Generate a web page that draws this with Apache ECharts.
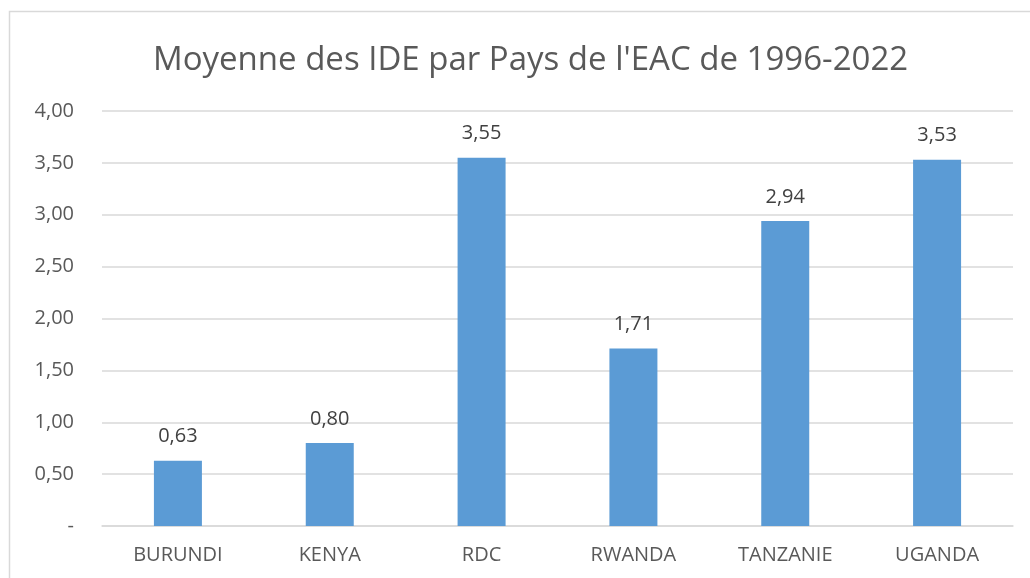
<!DOCTYPE html>
<html>
<head>
<meta charset="utf-8">
<script src="https://cdn.jsdelivr.net/npm/echarts@6/dist/echarts.min.js"></script>
<style>
html, body { margin: 0; padding: 0; background: #fff; }
#chart { width: 1030px; height: 578px; }
</style>
</head>
<body>
<div id="chart"></div>
<script>
var pays = ["BURUNDI", "KENYA", "RDC", "RWANDA", "TANZANIE", "UGANDA"]
var moyenneIde = [0.63, 0.80, 3.55, 1.71, 2.94, 3.53]

// format a la francaise : virgule, zero affiche en tiret
function fmt(v) {
	if (v === 0) return "-"
	return v.toFixed(2).replace(".", ",")
}

var myChart = echarts.init(document.getElementById("chart"))
myChart.setOption({
	animation: false,
	textStyle: { fontFamily: "Open Sans" },
	graphic: [
		{
			type: "rect",
			shape: { x: 9.5, y: 11.5, width: 1040, height: 600 },
			style: { fill: "none", stroke: "#d9d9d9", lineWidth: 1.5 },
			silent: true
		}
	],
	title: {
		text: "Moyenne des IDE par Pays de l'EAC de 1996-2022",
		left: 148,
		top: 39,
		textStyle: {
			fontFamily: "Open Sans",
			fontSize: 33,
			fontWeight: "normal",
			color: "#595959"
		}
	},
	grid: { left: 102, right: 17, top: 111, bottom: 52 },
	xAxis: {
		type: "category",
		data: pays,
		axisLine: { lineStyle: { color: "#d9d9d9", width: 1.5 } },
		axisTick: { show: false },
		axisLabel: { color: "#595959", fontSize: 20, margin: 19 }
	},
	yAxis: {
		type: "value",
		min: 0,
		max: 4,
		interval: 0.5,
		axisLine: { show: false },
		axisTick: { show: false },
		splitLine: { lineStyle: { color: "#d9d9d9", width: 1.5 } },
		axisLabel: {
			color: "#595959",
			fontSize: 20,
			margin: 28,
			formatter: fmt
		}
	},
	series: [
		{
			type: "bar",
			data: moyenneIde,
			barWidth: 48,
			itemStyle: { color: "#5b9bd5" },
			label: {
				show: true,
				position: "top",
				distance: 14,
				color: "#404040",
				fontSize: 20,
				formatter: function(p) {
					return fmt(p.value)
				}
			}
		}
	]
})
</script>
</body>
</html>
